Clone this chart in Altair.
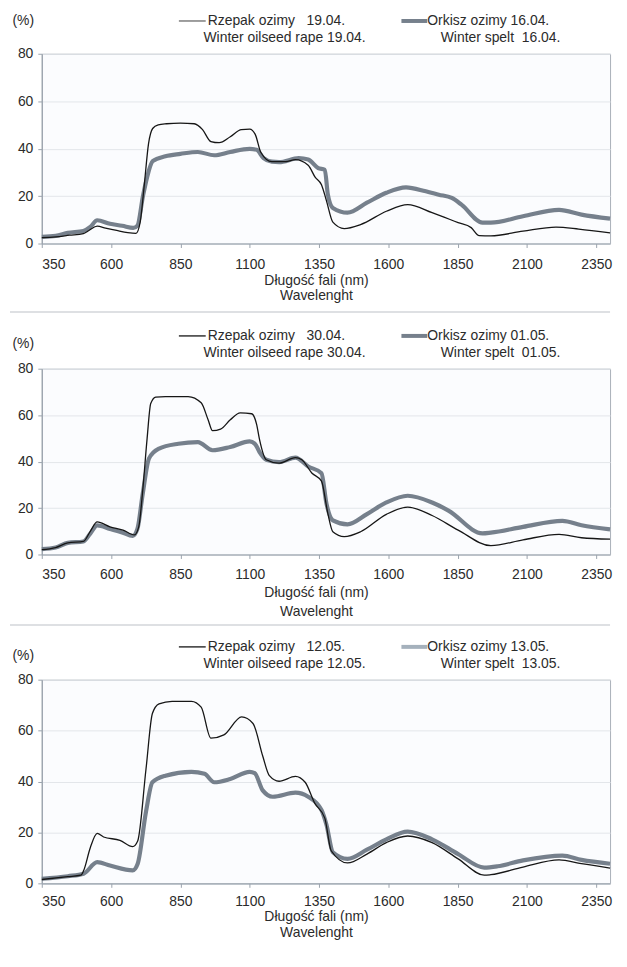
import altair as alt
import pandas as pd

FONT = "Liberation Sans"
NB = "\u00a0"

# x-axis ticks (nm)
X_TICKS = [350, 600, 850, 1100, 1350, 1600, 1850, 2100, 2350]
Y_TICKS = [0, 20, 40, 60, 80]

# ---------- Panel 1: Rzepak 19.04 / Orkisz 16.04 ----------
WL_R1 = [350, 400, 450, 500, 520, 550, 580, 620, 660, 690, 705, 720, 735, 750, 770, 800, 850, 900,
         930, 960, 990, 1030, 1070, 1100, 1120, 1140, 1180, 1230, 1265, 1311, 1336, 1359, 1377, 1400,
         1441, 1500, 1593, 1670, 1758, 1852, 1899, 1928, 1970, 2086, 2205, 2287, 2400]
V_R1 = [2.5, 2.8, 3.5, 4.2, 5.5, 7.3, 6.5, 5.5, 4.6, 4.3, 9, 25, 42, 48.5, 50, 50.5, 50.8, 50.5,
        48, 43, 42.5, 45, 48, 48.2, 46, 38.5, 34.5, 34.5, 35.4, 33, 28, 24.8, 18, 9,
        6.3, 8, 13.6, 16.4, 13, 8.8, 6.7, 3.3, 3.2, 5.2, 6.9, 6.1, 4.5]

WL_O1 = [350, 400, 444, 500, 525, 550, 596, 640, 680, 695, 715, 730, 750, 796, 850, 913, 972, 1030,
         1100, 1125, 1150, 1180, 1206, 1277, 1311, 1347, 1371, 1382, 1400, 1453, 1523, 1593, 1664,
         1735, 1782, 1829, 1864, 1940, 1970, 2086, 2216, 2297, 2400]
V_O1 = [2.8, 3.2, 4.5, 5.3, 7, 9.8, 8.3, 7.5, 6.6, 7.5, 20, 28, 34.7, 36.8, 37.8, 38.6, 37.2, 38.6,
        39.9, 39.5, 36, 34.5, 34.3, 36, 35.4, 31.8, 31.1, 20.6, 15, 13, 17.2, 21.4, 23.7,
        22, 20.6, 19.2, 16.4, 8.8, 8.8, 11.5, 14.2, 12.2, 10.5]

# ---------- Panel 2: Rzepak 30.04 / Orkisz 01.05 ----------
WL_R2 = [350, 400, 444, 500, 525, 550, 596, 643, 684, 700, 714, 730, 743, 761, 796, 878, 925, 950,
         966, 995, 1030, 1066, 1107, 1125, 1135, 1160, 1206, 1265, 1288, 1324, 1359, 1382, 1400,
         1441, 1500, 1593, 1670, 1758, 1852, 1970, 2086, 2216, 2297, 2400]
V_R2 = [2.1, 3, 5, 5.6, 10, 14, 11.9, 10.5, 8.4, 12, 27.4, 50, 65, 67.8, 68, 68, 65.3, 58,
        53.3, 54, 58, 61, 60.6, 56, 49.8, 40.8, 39.3, 41.7, 40.8, 35.1, 31.6, 17.6, 9.8,
        7.7, 9.8, 17.3, 20.4, 16.8, 10.5, 3.8, 6.3, 8.7, 7.2, 6.6]

WL_O2 = [350, 400, 444, 500, 525, 550, 596, 640, 678, 695, 714, 737, 773, 843, 913, 966, 1030,
         1100, 1120, 1135, 1160, 1206, 1265, 1311, 1359, 1377, 1400, 1453, 1523, 1593, 1670,
         1758, 1817, 1940, 1970, 2086, 2228, 2297, 2400]
V_O2 = [2.3, 3, 5, 5.6, 9, 12.5, 11, 9.5, 8, 11, 26, 41.4, 45.6, 47.7, 48.4, 44.9, 46.3,
        48.7, 47.5, 44.2, 40.8, 39.8, 41.7, 37.9, 35, 21.9, 14.7, 13, 17.4, 22.4, 25.3,
        22.4, 18.9, 9.1, 9.4, 11.9, 14.5, 12.6, 10.8]

# ---------- Panel 3: Rzepak 12.05 / Orkisz 13.05 ----------
WL_R3 = [350, 444, 491, 501, 525, 550, 573, 632, 678, 696, 726, 749, 773, 820, 890, 925, 960,
         1007, 1071, 1112, 1147, 1171, 1206, 1265, 1300, 1335, 1371, 1394, 1453, 1523, 1593,
         1670, 1758, 1852, 1946, 1970, 2086, 2216, 2297, 2400]
V_R3 = [1.5, 2.6, 3.2, 5, 14, 19.6, 18.2, 16.9, 14.4, 16.6, 44.9, 66.7, 70.5, 71.5, 71.5, 69.2, 57,
        58.3, 65.4, 62.8, 50, 42.3, 40.1, 42, 39.7, 31.4, 25.6, 12.8, 8, 11.5, 16,
        18.6, 16, 9.6, 3.2, 3.4, 6.4, 9.2, 7.7, 6]

WL_O3 = [350, 444, 501, 550, 596, 678, 696, 726, 749, 796, 890, 937, 972, 1030, 1100, 1118, 1147,
         1183, 1265, 1311, 1359, 1377, 1400, 1453, 1523, 1593, 1670, 1758, 1852, 1946, 1994,
         2086, 2228, 2297, 2400]
V_O3 = [1.8, 2.8, 3.8, 8.3, 7, 5.1, 7.7, 28.2, 39.7, 42.3, 43.8, 43, 39.7, 41, 43.8, 43.3, 36.5,
        34, 35.6, 34, 28.8, 23, 12.2, 9.6, 13.2, 17.3, 20.3, 17.3, 11.5, 6.2, 6.7,
        9, 10.9, 9.2, 7.7]

# legend texts
LEG1 = ["Rzepak ozimy" + NB * 3 + "19.04.", "Winter oilseed rape 19.04.",
        "Orkisz ozimy 16.04.", "Winter spelt" + NB * 2 + "16.04."]
LEG2 = ["Rzepak ozimy" + NB * 3 + "30.04.", "Winter oilseed rape 30.04.",
        "Orkisz ozimy 01.05.", "Winter spelt" + NB * 2 + "01.05."]
LEG3 = ["Rzepak ozimy" + NB * 3 + "12.05.", "Winter oilseed rape 12.05.",
        "Orkisz ozimy 13.05.", "Winter spelt" + NB * 2 + "13.05."]

W = 572
TEXT_COLOR = "#2b2b2b"
AXIS_GRAY = "#9aa3ad"


def one(text):
    return pd.DataFrame({"t": [text]})


def panel(wl_r, v_r, wl_o, v_o, legend, height, ork_color, rz_sample_color,
          pct_y, label_pad, title_pad, title_lh, sep_y=None):
    df = pd.concat([
        pd.DataFrame({"wl": wl_o, "v": v_o, "s": "Orkisz"}),
        pd.DataFrame({"wl": wl_r, "v": v_r, "s": "Rzepak"}),
    ], ignore_index=True)

    lines = alt.Chart(df).mark_line(interpolate="monotone").encode(
        x=alt.X("wl:Q",
                scale=alt.Scale(domain=[350, 2400], nice=False, zero=False),
                axis=alt.Axis(values=X_TICKS, format="d", grid=False,
                              title=["Długość fali (nm)", "Wavelenght"],
                              titlePadding=title_pad, titleLineHeight=title_lh,
                              titleX=276, titleAnchor="middle",
                              labelPadding=label_pad, tickSize=4)),
        y=alt.Y("v:Q",
                scale=alt.Scale(domain=[0, 80], nice=False),
                axis=alt.Axis(values=Y_TICKS, grid=True, title="(%)",
                              titleAngle=0, titleAlign="left", titleBaseline="middle",
                              titleX=-30, titleY=pct_y, labelPadding=5, tickSize=4)),
        color=alt.Color("s:N", scale=alt.Scale(domain=["Orkisz", "Rzepak"],
                                               range=[ork_color, "#161616"]), legend=None),
        strokeWidth=alt.StrokeWidth("s:N", scale=alt.Scale(domain=["Orkisz", "Rzepak"],
                                                           range=[4.2, 1.3]), legend=None),
        detail="s:N",
    )

    layers = [lines]
    r1, r2, o1, o2 = legend
    row1, row2 = -33, -16
    # legend sample lines
    layers.append(alt.Chart(one("")).mark_rule(color=rz_sample_color, strokeWidth=1.5).encode(
        x=alt.value(138), x2=alt.value(165), y=alt.value(row1)))
    layers.append(alt.Chart(one("")).mark_rule(color=ork_color, strokeWidth=4).encode(
        x=alt.value(362), x2=alt.value(388), y=alt.value(row1)))
    # legend labels
    for txt, xx, yy, al in [(r1, 167, row1, "left"), (r2, 326, row2, "right"),
                            (o1, 388, row1, "left"), (o2, 522, row2, "right")]:
        layers.append(alt.Chart(one(txt)).mark_text(
            align=al, baseline="middle", fontSize=14, font=FONT, color=TEXT_COLOR).encode(
            x=alt.value(xx), y=alt.value(yy), text="t:N"))
    if sep_y is not None:
        layers.append(alt.Chart(one("")).mark_rule(color="#d3d6da", strokeWidth=1.5).encode(
            x=alt.value(-32), x2=alt.value(W), y=alt.value(sep_y)))

    return alt.layer(*layers).properties(width=W, height=height)


p1 = panel(WL_R1, V_R1, WL_O1, V_O1, LEG1, 191, "#76808c", "#7d7d7d", -33, 10, 2, 15)
p2 = panel(WL_R2, V_R2, WL_O2, V_O2, LEG2, 187, "#76808c", "#333333", -25, 9, 4, 19, sep_y=-57)
p3 = panel(WL_R3, V_R3, WL_O3, V_O3, LEG3, 205, "#a5b1bc", "#333333", -24, 7, 1, 17, sep_y=-55)

chart = alt.vconcat(p1, p2, p3, spacing=126, bounds="flush").properties(
    padding={"left": 0, "top": 2, "right": 0, "bottom": 0},
    background="white",
).configure(font=FONT).configure_view(
    fill="#fbfcfe", stroke="#a9b0b8", strokeWidth=1
).configure_axis(
    labelFont=FONT, titleFont=FONT, labelFontSize=14, titleFontSize=14,
    labelColor=TEXT_COLOR, titleColor=TEXT_COLOR, titleFontWeight="normal",
    domainColor=AXIS_GRAY, tickColor=AXIS_GRAY, gridColor="#e3e6ea", gridWidth=1,
    domainWidth=1.2,
)

chart.save("out.html", embed_options={"renderer": "svg", "actions": False})
